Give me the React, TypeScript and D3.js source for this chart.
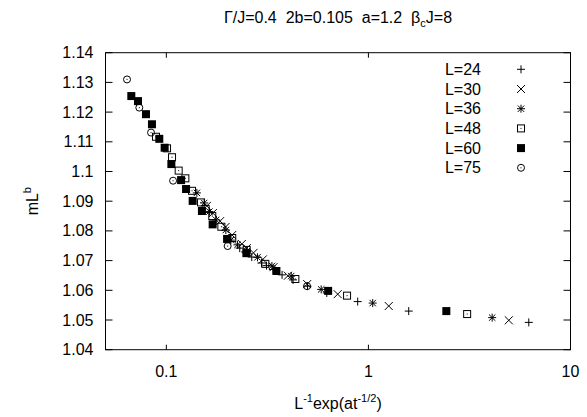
import React from "react";
import * as d3 from "d3";

const W = 587;
const H = 417;
const M = { left: 105.5, right: 16.5, top: 52.7, bottom: 67.3 };

const xTicks = [0.1, 1, 10];
const xTickLabels = ["0.1", "1", "10"];
const yTicks = [1.04, 1.05, 1.06, 1.07, 1.08, 1.09, 1.1, 1.11, 1.12, 1.13, 1.14];
const yTickLabels = ["1.04", "1.05", "1.06", "1.07", "1.08", "1.09", "1.1", "1.11", "1.12", "1.13", "1.14"];

const seriesNames = ["L=24", "L=30", "L=36", "L=48", "L=60", "L=75"];
const seriesMarkers = ["plus", "cross", "star", "boxdot", "box", "circdot"];

const L24x = [0.2308, 0.2453, 0.2647, 0.2957, 0.313, 0.3375, 0.3739, 0.4238, 0.4994, 0.6223, 0.885, 1.583, 6.217];
const L24y = [1.0742, 1.0729, 1.0712, 1.0692, 1.0683, 1.067, 1.0652, 1.0635, 1.0614, 1.0591, 1.0562, 1.053, 1.0492];

const L30x = [0.1586, 0.1699, 0.1846, 0.1962, 0.2117, 0.2364, 0.2503, 0.2699, 0.3003, 0.3391, 0.3995, 0.4977, 0.7047, 1.2605, 4.951];
const L30y = [1.0884, 1.086, 1.0833, 1.0813, 1.0786, 1.0756, 1.0742, 1.0726, 1.0704, 1.0678, 1.0649, 1.0621, 1.0587, 1.0547, 1.0499];

const L36x = [0.1416, 0.1539, 0.1634, 0.1764, 0.197, 0.2086, 0.2249, 0.2503, 0.2825, 0.333, 0.4148, 0.5838, 1.05, 4.096];
const L36y = [1.0928, 1.0894, 1.0865, 1.0837, 1.0803, 1.0769, 1.0753, 1.0732, 1.0711, 1.0682, 1.0648, 1.0603, 1.0557, 1.0508];

const L48x = [0.0889, 0.1008, 0.1067, 0.1151, 0.1242, 0.134, 0.1485, 0.1565, 0.1688, 0.1872, 0.2119, 0.2498, 0.309, 0.435, 0.784, 3.08];
const L48y = [1.1117, 1.1078, 1.1048, 1.1003, 1.0977, 1.0935, 1.0896, 1.0874, 1.085, 1.0814, 1.0776, 1.0736, 1.0689, 1.0638, 1.0582, 1.052];

const L60x = [0.0671, 0.0724, 0.0793, 0.0849, 0.0923, 0.0981, 0.1059, 0.1183, 0.1252, 0.135, 0.15, 0.1695, 0.1998, 0.249, 0.3505, 0.632, 2.43];
const L60y = [1.1254, 1.1237, 1.1193, 1.1159, 1.111, 1.108, 1.1025, 1.0971, 1.0941, 1.0901, 1.0867, 1.0822, 1.0773, 1.0725, 1.0665, 1.0598, 1.053];

const L75x = [0.0639, 0.0735, 0.084, 0.108, 0.2011, 0.497];
const L75y = [1.131, 1.1215, 1.1131, 1.0969, 1.0749, 1.0614];

const seriesX = [L24x, L30x, L36x, L48x, L60x, L75x];
const seriesY = [L24y, L30y, L36y, L48y, L60y, L75y];

const FONT = "'Liberation Sans', Arial, Helvetica, sans-serif";
const FS = 16;
const SUP = 11;

function Marker({ kind, x, y }: { kind: string; x: number; y: number }) {
  const s = 4;
  const st = { stroke: "#000", strokeWidth: 1, fill: "none" };
  if (kind === "plus")
    return <path d={`M${x - s},${y}H${x + s}M${x},${y - s}V${y + s}`} {...st} />;
  if (kind === "cross")
    return <path d={`M${x - s},${y - s}L${x + s},${y + s}M${x - s},${y + s}L${x + s},${y - s}`} {...st} />;
  if (kind === "star")
    return (
      <path
        d={`M${x - s},${y}H${x + s}M${x},${y - s}V${y + s}M${x - s * 0.8},${y - s * 0.8}L${x + s * 0.8},${y + s * 0.8}M${x - s * 0.8},${y + s * 0.8}L${x + s * 0.8},${y - s * 0.8}`}
        {...st}
      />
    );
  if (kind === "boxdot")
    return (
      <g>
        <rect x={x - 3.5} y={y - 3.5} width={7} height={7} {...st} />
        <rect x={x - 0.5} y={y - 0.5} width={1} height={1} fill="#000" />
      </g>
    );
  if (kind === "box") return <rect x={x - 4} y={y - 4} width={8} height={8} fill="#000" />;
  return (
    <g>
      <circle cx={x} cy={y} r={3.5} {...st} />
      <rect x={x - 0.5} y={y - 0.5} width={1} height={1} fill="#000" />
    </g>
  );
}

export default function App() {
  const x = d3.scaleLog().domain([0.05, 10]).range([M.left, W - M.right]);
  const y = d3.scaleLinear().domain([1.04, 1.14]).range([H - M.bottom, M.top]);
  const x0 = M.left,
    x1 = W - M.right,
    y0 = H - M.bottom,
    y1 = M.top;
  const cx = (x0 + x1) / 2;

  const legendTextX = 481;
  const legendSymX = 521;
  const legendY0 = 69.3;
  const legendDy = 19.7;

  return (
    <svg width={W} height={H} style={{ position: "absolute", left: 0, top: 0, background: "#fff" }} fontFamily={FONT}>
      <rect x={0} y={0} width={W} height={H} fill="#fff" />
      <text x={cx} y={23} fontSize={FS} textAnchor="middle" style={{ whiteSpace: "pre" }}>
        <tspan>{"Γ/J=0.4  2b=0.105  a=1.2  β"}</tspan>
        <tspan fontSize={SUP} dy={4}>c</tspan>
        <tspan dy={-4}>J=8</tspan>
      </text>

      <rect x={x0} y={y1} width={x1 - x0} height={y0 - y1} fill="none" stroke="#000" strokeWidth={1} />

      {yTicks.map((t, i) => (
        <g key={"y" + i}>
          <line x1={x0} x2={x0 + 7} y1={y(t)} y2={y(t)} stroke="#000" />
          <line x1={x1} x2={x1 - 7} y1={y(t)} y2={y(t)} stroke="#000" />
          <text x={x0 - 12} y={y(t) + 5.5} fontSize={FS} textAnchor="end">{yTickLabels[i]}</text>
        </g>
      ))}
      {xTicks.map((t, i) => (
        <g key={"x" + i}>
          <line x1={x(t)} x2={x(t)} y1={y0} y2={y0 - 5} stroke="#000" />
          <line x1={x(t)} x2={x(t)} y1={y1} y2={y1 + 5} stroke="#000" />
          <text x={x(t)} y={y0 + 27} fontSize={FS} textAnchor="middle">{xTickLabels[i]}</text>
        </g>
      ))}

      <text x={cx} y={H - 8} fontSize={FS} textAnchor="middle">
        <tspan>L</tspan>
        <tspan fontSize={SUP} dy={-7}>-1</tspan>
        <tspan dy={7}>exp(at</tspan>
        <tspan fontSize={SUP} dy={-7}>-1/2</tspan>
        <tspan dy={7}>)</tspan>
      </text>
      <text transform={`translate(38,${(y0 + y1) / 2}) rotate(-90)`} fontSize={FS} textAnchor="middle">
        <tspan>mL</tspan>
        <tspan fontSize={SUP} dy={-7}>b</tspan>
      </text>

      {seriesX.map((xs, si) => (
        <g key={"s" + si}>
          {xs.map((v, j) => (
            <Marker key={j} kind={seriesMarkers[si]} x={x(v)} y={y(seriesY[si][j])} />
          ))}
        </g>
      ))}

      {seriesNames.map((n, i) => (
        <g key={"l" + i}>
          <text x={legendTextX} y={legendY0 + i * legendDy + 5.5} fontSize={FS} textAnchor="end">{n}</text>
          <Marker kind={seriesMarkers[i]} x={legendSymX} y={legendY0 + i * legendDy} />
        </g>
      ))}
    </svg>
  );
}
